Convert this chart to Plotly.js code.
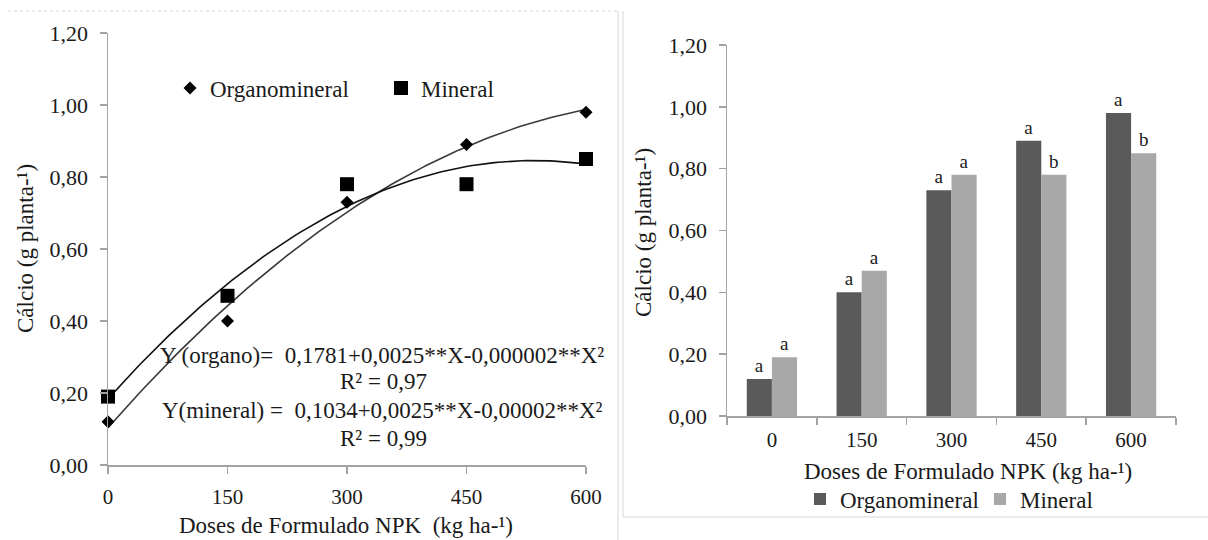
<!DOCTYPE html>
<html>
<head>
<meta charset="utf-8">
<script src="https://cdn.plot.ly/plotly-3.0.1.min.js"></script>
<style>
  html, body { margin: 0; padding: 0; background: #fff; }
  #chart { width: 1208px; height: 540px; }
</style>
</head>
<body>
<div id="chart"></div>
<script>
// Calcium content per plant (g planta-1) for each NPK dose
const doses = [0, 150, 300, 450, 600];
const doseLabels = ['0', '150', '300', '450', '600'];
const organomineral = [0.12, 0.40, 0.73, 0.89, 0.98];
const mineral = [0.19, 0.47, 0.78, 0.78, 0.85];
const lettersOrgano = ['a', 'a', 'a', 'a', 'a'];
const lettersMineral = ['a', 'a', 'a', 'b', 'b'];
const equationLines = [
  'Y (organo)=\u00a0 0,1781+0,0025**X-0,000002**X\u00b2',
  'R\u00b2 = 0,97',
  'Y(mineral) =\u00a0 0,1034+0,0025**X-0,00002**X\u00b2',
  'R\u00b2 = 0,99'
];

const W = 1208, H = 540;
const px = x => x / W;
const py = y => 1 - y / H;

// Second-order least-squares trendline through the observed points
function quadFit(xs, ys) {
  const S = [0, 0, 0, 0, 0], T = [0, 0, 0];
  xs.forEach((x, i) => {
    for (let k = 0; k < 5; k++) S[k] += Math.pow(x, k);
    for (let k = 0; k < 3; k++) T[k] += ys[i] * Math.pow(x, k);
  });
  const A = [[S[0], S[1], S[2], T[0]], [S[1], S[2], S[3], T[1]], [S[2], S[3], S[4], T[2]]];
  for (let c = 0; c < 3; c++) {
    for (let r = c + 1; r < 3; r++) {
      const f = A[r][c] / A[c][c];
      for (let k = c; k < 4; k++) A[r][k] -= f * A[c][k];
    }
  }
  const b = [0, 0, 0];
  for (let r = 2; r >= 0; r--) {
    let s = A[r][3];
    for (let k = r + 1; k < 3; k++) s -= A[r][k] * b[k];
    b[r] = s / A[r][r];
  }
  return x => b[0] + b[1] * x + b[2] * x * x;
}

function trend(ys) {
  const f = quadFit(doses, ys);
  const xs = [], vs = [];
  for (let x = doses[0]; x <= doses[doses.length - 1]; x += 5) { xs.push(x); vs.push(f(x)); }
  return { xs, vs };
}
const tOrg = trend(organomineral);
const tMin = trend(mineral);

const serif = 'Liberation Serif, Times New Roman, serif';
const ink = '#1a1a1a';
const axisGray = '#a3a3a3';

const traces = [
  { type: 'scatter', mode: 'lines', x: tOrg.xs, y: tOrg.vs, xaxis: 'x', yaxis: 'y',
    line: { color: '#3a3a3a', width: 1.6 }, showlegend: false, hoverinfo: 'skip', cliponaxis: false },
  { type: 'scatter', mode: 'lines', x: tMin.xs, y: tMin.vs, xaxis: 'x', yaxis: 'y',
    line: { color: '#111', width: 1.6 }, showlegend: false, hoverinfo: 'skip', cliponaxis: false },
  { type: 'scatter', mode: 'markers', name: 'Organomineral', x: doses, y: organomineral,
    xaxis: 'x', yaxis: 'y', marker: { symbol: 'diamond', size: 10, color: '#000' },
    cliponaxis: false, legend: 'legend' },
  { type: 'scatter', mode: 'markers', name: 'Mineral', x: doses, y: mineral,
    xaxis: 'x', yaxis: 'y', marker: { symbol: 'square', size: 14, color: '#000' },
    cliponaxis: false, legend: 'legend' },
  { type: 'bar', name: 'Organomineral', x: doseLabels, y: organomineral, xaxis: 'x2', yaxis: 'y2',
    marker: { color: '#5a5a5a' }, text: lettersOrgano, textposition: 'outside', constraintext: 'none',
    textfont: { family: serif, size: 19, color: ink }, cliponaxis: false, legend: 'legend2' },
  { type: 'bar', name: 'Mineral', x: doseLabels, y: mineral, xaxis: 'x2', yaxis: 'y2',
    marker: { color: '#a8a8a8' }, text: lettersMineral, textposition: 'outside', constraintext: 'none',
    textfont: { family: serif, size: 19, color: ink }, cliponaxis: false, legend: 'legend2' }
];

const tickFont = { family: serif, size: 22, color: ink };
const axisCommon = {
  showline: true, linecolor: axisGray, linewidth: 1.5, ticks: 'outside', ticklen: 7,
  tickcolor: axisGray, tickwidth: 1.5, tickfont: tickFont, showgrid: false, zeroline: false,
  fixedrange: true
};

const textAnn = (text, x, y, size, extra) => Object.assign({
  text, x: px(x), y: py(y), xref: 'paper', yref: 'paper', showarrow: false,
  xanchor: 'center', yanchor: 'middle', font: { family: serif, size, color: ink }
}, extra || {});

const annotations = [
  textAnn(equationLines[0], 382, 355, 23),
  textAnn(equationLines[1], 383, 381, 23),
  textAnn(equationLines[2], 382, 410, 23),
  textAnn(equationLines[3], 383, 438, 23),
  textAnn('Doses de Formulado NPK\u00a0 (kg ha-\u00b9)', 346, 525, 23),
  textAnn('C\u00e1lcio (g planta-\u00b9)', 25, 249, 23, { textangle: -90 }),
  textAnn('Doses de Formulado NPK (kg ha-\u00b9)', 968, 471, 23),
  textAnn('C\u00e1lcio (g planta-\u00b9)', 644, 232, 23, { textangle: -90 })
];

const frame = { color: '#d6d6d6', width: 1 };
const shapes = [
  { type: 'line', xref: 'paper', yref: 'paper', x0: px(8), x1: px(618), y0: py(11), y1: py(11),
    line: Object.assign({ dash: 'dot' }, frame) },
  { type: 'line', xref: 'paper', yref: 'paper', x0: px(618), x1: px(618), y0: py(11), y1: py(540), line: frame },
  { type: 'line', xref: 'paper', yref: 'paper', x0: px(623), x1: px(623), y0: py(11), y1: py(517), line: frame },
  { type: 'line', xref: 'paper', yref: 'paper', x0: px(623), x1: px(1208), y0: py(517), y1: py(517), line: frame }
];

const layout = {
  width: W, height: H,
  margin: { l: 0, r: 0, t: 0, b: 0 },
  paper_bgcolor: '#fff', plot_bgcolor: '#fff',
  separators: ',.',
  font: { family: serif, color: ink },
  barmode: 'group', bargap: 0.44, bargroupgap: 0,
  xaxis: Object.assign({}, axisCommon, {
    domain: [px(108), px(586)], range: [0, 600], tickmode: 'array', tickvals: doses,
    anchor: 'y', ticklabelstandoff: 5, tickfont: { family: serif, size: 21, color: ink }
  }),
  yaxis: Object.assign({}, axisCommon, {
    domain: [py(465), py(33)], range: [0, 1.2], tick0: 0, dtick: 0.2, tickformat: '.2f',
    anchor: 'x', ticklabelstandoff: 7
  }),
  xaxis2: Object.assign({}, axisCommon, {
    domain: [px(727), px(1176)], type: 'category', tickson: 'boundaries',
    anchor: 'y2', ticklabelstandoff: 4, tickfont: { family: serif, size: 21, color: ink }
  }),
  yaxis2: Object.assign({}, axisCommon, {
    domain: [py(416), py(45)], range: [0, 1.2], tick0: 0, dtick: 0.2, tickformat: '.2f',
    anchor: 'x2', ticklabelstandoff: 7
  }),
  legend: {
    orientation: 'h', x: px(170), y: py(88), xanchor: 'left', yanchor: 'middle',
    font: { family: serif, size: 23, color: ink }, bgcolor: 'rgba(0,0,0,0)',
    itemwidth: 30, entrywidth: 166, entrywidthmode: 'pixels', borderwidth: 0
  },
  legend2: {
    orientation: 'h', x: px(800), y: py(499), xanchor: 'left', yanchor: 'middle',
    font: { family: serif, size: 23, color: ink }, bgcolor: 'rgba(0,0,0,0)',
    itemwidth: 30, entrywidth: 135, entrywidthmode: 'pixels', borderwidth: 0
  },
  annotations, shapes
};

Plotly.newPlot('chart', traces, layout, { displayModeBar: false, staticPlot: true });
</script>
</body>
</html>
